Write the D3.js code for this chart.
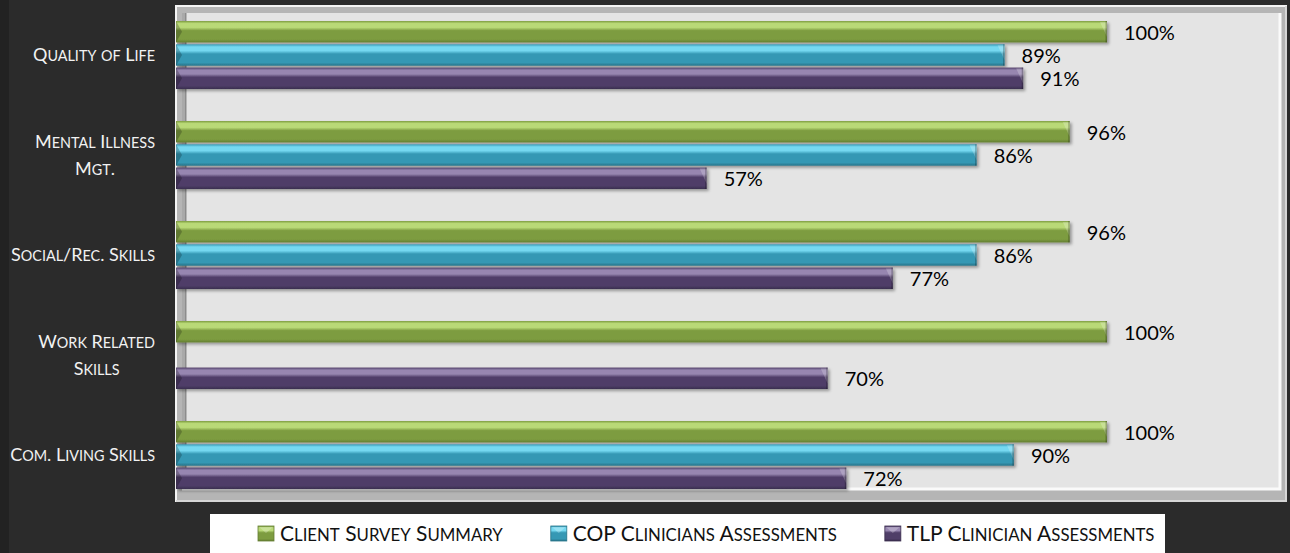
<!DOCTYPE html>
<html>
<head>
<meta charset="utf-8">
<script src="https://cdn.jsdelivr.net/npm/d3@7"></script>
<style>
  html, body { margin: 0; padding: 0; background: #2b2b2b; }
  svg { display: block; }
</style>
</head>
<body>
<svg id="chart" width="1290" height="553"></svg>
<script>
// categories (top to bottom) and series values in percent
const categories = ["Quality of Life", "Mental Illness\nMgt.", "Social/Rec. Skills", "Work Related\nSkills", "Com. Living Skills"];
const seriesNames = ["Client Survey Summary", "COP Clinicians Assessments", "TLP Clinician Assessments"];
const clientSurvey = [100, 96, 96, 100, 100];
const copClinicians = [89, 86, 86, null, 90];
const tlpClinician = [91, 57, 77, 70, 72];

const seriesValues = [clientSurvey, copClinicians, tlpClinician];
// light / main / dark shade for each series
const shades = [
    ["#b9d977", "#7d9c40", "#647e32"],
    ["#74d8f0", "#3598b4", "#277489"],
    ["#9786b0", "#4f3e68", "#3a2d4e"]
];

const svg = d3.select("#chart");
const W = 1290, H = 553;
const fmt = d => d + "%";
const font = "Lato, 'Open Sans', sans-serif";

svg.append("rect").attr("width", W).attr("height", H).attr("fill", "#2b2b2b");
svg.append("rect").attr("width", 9).attr("height", H).attr("fill", "#222");

const defs = svg.append("defs");
const shadow = defs.append("filter").attr("id", "shadow")
    .attr("x", "-5%").attr("y", "-30%").attr("width", "110%").attr("height", "170%");
shadow.append("feDropShadow")
    .attr("dx", 2).attr("dy", 2).attr("stdDeviation", 1.5)
    .attr("flood-color", "#000").attr("flood-opacity", 0.35);

shades.forEach((s, i) => {
    let g = defs.append("linearGradient").attr("id", "grad" + i)
        .attr("x1", 0).attr("y1", 0).attr("x2", 0).attr("y2", 1);
    [[0, s[1]], [0.12, s[0]], [0.3, s[0]], [0.45, s[1]], [0.85, s[1]], [1, s[2]]]
        .forEach(st => g.append("stop").attr("offset", st[0]).attr("stop-color", st[1]));
});

// plot frame (bevelled box)
const frame = {x0: 175, y0: 5, x1: 1287, y1: 502};
svg.append("rect")
    .attr("x", frame.x0).attr("y", frame.y0)
    .attr("width", frame.x1 - frame.x0).attr("height", frame.y1 - frame.y0)
    .attr("fill", "#b5b5b5");
svg.append("rect")
    .attr("x", frame.x0 + 7).attr("y", frame.y0 + 8)
    .attr("width", frame.x1 - frame.x0 - 14).attr("height", frame.y1 - frame.y0 - 22)
    .attr("fill", "#e4e4e4");
svg.append("path")
    .attr("d", `M${frame.x0 + 1},${frame.y1}V${frame.y0 + 1}H${frame.x1}`)
    .attr("fill", "none").attr("stroke", "#f4f4f4").attr("stroke-width", 2);
svg.append("path")
    .attr("d", `M${frame.x0 + 7},${frame.y1 - 13}H${frame.x1 - 7}V${frame.y0 + 8}`)
    .attr("fill", "none").attr("stroke", "#fafafa").attr("stroke-width", 3);
svg.append("path")
    .attr("d", `M${frame.x0 + 1},${frame.y1 - 1}H${frame.x1 - 1}V${frame.y0 + 1}`)
    .attr("fill", "none").attr("stroke", "#d6d6d6").attr("stroke-width", 2);

// 3D wall line at the value axis
svg.append("rect").attr("x", 182).attr("y", frame.y0 + 8)
    .attr("width", 3).attr("height", frame.y1 - frame.y0 - 22).attr("fill", "#a9a9a9");
svg.append("rect").attr("x", 185).attr("y", frame.y0 + 8)
    .attr("width", 1.5).attr("height", frame.y1 - frame.y0 - 22).attr("fill", "#8c8c8c");

// scales
const x = d3.scaleLinear().domain([0, 100]).range([176, 1107]);
const y = d3.scaleBand().domain(categories).range([5, 505]);
const ySub = d3.scaleBand().domain(seriesNames).range([-34, 34]).paddingInner(0.08);

const rows = [];
categories.forEach((c, ci) => {
    seriesNames.forEach((s, si) => {
        const v = seriesValues[si][ci];
        if (v !== null && v !== undefined) rows.push({cat: c, series: s, si: si, value: v});
    });
});

const barG = svg.append("g");
const bars = barG.selectAll("g.bar")
    .data(rows)
    .join("g")
    .attr("class", "bar");

const by0 = d => y(d.cat) + y.bandwidth() / 2 + ySub(d.series);
const bh = ySub.bandwidth();

bars.append("rect")
    .attr("x", x(0))
    .attr("y", by0)
    .attr("width", d => x(d.value) - x(0))
    .attr("height", bh)
    .attr("fill", d => `url(#grad${d.si})`)
    .attr("filter", "url(#shadow)");

// left bevel wedge
bars.append("path")
    .attr("d", d => {
        let y0 = by0(d);
        return `M${x(0)},${y0}L${x(0) + 6},${y0 + bh / 2}L${x(0)},${y0 + bh}Z`;
    })
    .attr("fill", "#000").attr("opacity", 0.22);

// right bevel facet
bars.append("path")
    .attr("d", d => {
        let y0 = by0(d), x1 = x(d.value);
        return `M${x1 - 7},${y0 + 1}L${x1},${y0 + 1}L${x1},${y0 + bh * 0.75}Z`;
    })
    .attr("fill", "#fff").attr("opacity", 0.22);
bars.append("rect")
    .attr("x", d => x(d.value) - 1.5)
    .attr("y", by0)
    .attr("width", 1.5).attr("height", bh)
    .attr("fill", "#000").attr("opacity", 0.25);

// value labels
svg.append("g").selectAll("text")
    .data(rows)
    .join("text")
    .attr("x", d => x(d.value) + 17)
    .attr("y", d => by0(d) + bh / 2 + 1)
    .attr("dy", "0.35em")
    .attr("font-family", font)
    .attr("font-size", 20)
    .attr("fill", "#000")
    .text(d => fmt(d.value));

// small caps helper: lowercase runs drawn as smaller capitals
function smallCaps(sel, str, size) {
    const runs = str.match(/[a-z]+|[^a-z]+/g) || [];
    runs.forEach(r => {
        sel.append("tspan")
            .attr("font-size", /[a-z]/.test(r) ? size * 0.8 : size)
            .text(r.toUpperCase());
    });
}

// category labels
const labelRight = 155, catSize = 18, lineH = 27;
categories.forEach(c => {
    const lines = c.split("\n");
    const cy = y(c) + y.bandwidth() / 2;
    const texts = lines.map((ln, i) => {
        let t = svg.append("text")
            .attr("x", labelRight)
            .attr("y", cy + 6 + (i - (lines.length - 1) / 2) * lineH)
            .attr("text-anchor", "end")
            .attr("font-family", font)
            .attr("fill", "#f2f2f2");
        smallCaps(t, ln, catSize);
        return t;
    });
    const widths = texts.map(t => t.node().getComputedTextLength());
    const maxW = d3.max(widths);
    texts.forEach((t, i) => t.attr("x", labelRight - (maxW - widths[i]) / 2));
});

// legend
svg.append("rect").attr("x", 210).attr("y", 514).attr("width", 955).attr("height", 45).attr("fill", "#fff");
let lx = 258;
seriesNames.forEach((s, i) => {
    const g = svg.append("g");
    g.append("rect").attr("x", lx).attr("y", 526).attr("width", 16).attr("height", 15)
        .attr("fill", `url(#grad${i})`).attr("stroke", shades[i][2]).attr("stroke-width", 0.8);
    g.append("path")
        .attr("d", `M${lx + 1},${527}L${lx + 8},${533}L${lx + 15},${527}Z`)
        .attr("fill", "#fff").attr("opacity", 0.25);
    const t = g.append("text")
        .attr("x", lx + 22).attr("y", 541)
        .attr("font-family", font)
        .attr("fill", "#111");
    smallCaps(t, s, 21);
    lx += 22 + t.node().getComputedTextLength() + 48;
});
</script>
</body>
</html>
